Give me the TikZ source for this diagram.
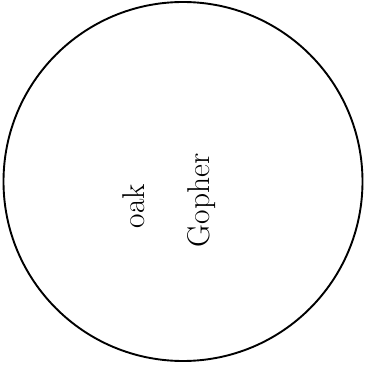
\documentclass[tikz,border=0pt]{standalone}
\usepackage{tikz}

\begin{document}
\begin{tikzpicture}[x=1pt,y=1pt]
  \useasboundingbox (0,0) rectangle (367,370);
  \tikzset{label text/.style={font=\fontsize{31.5}{36}\selectfont,rotate=90,anchor=base,inner sep=0pt}}
  \draw[line width=1.9pt] (183,188.5) circle[radius=179.5];
  \node[label text] (oak) at (144,164) {oak};
  \node[label text] (gopher) at (209,169.5) {Gopher};
\end{tikzpicture}
\end{document}
